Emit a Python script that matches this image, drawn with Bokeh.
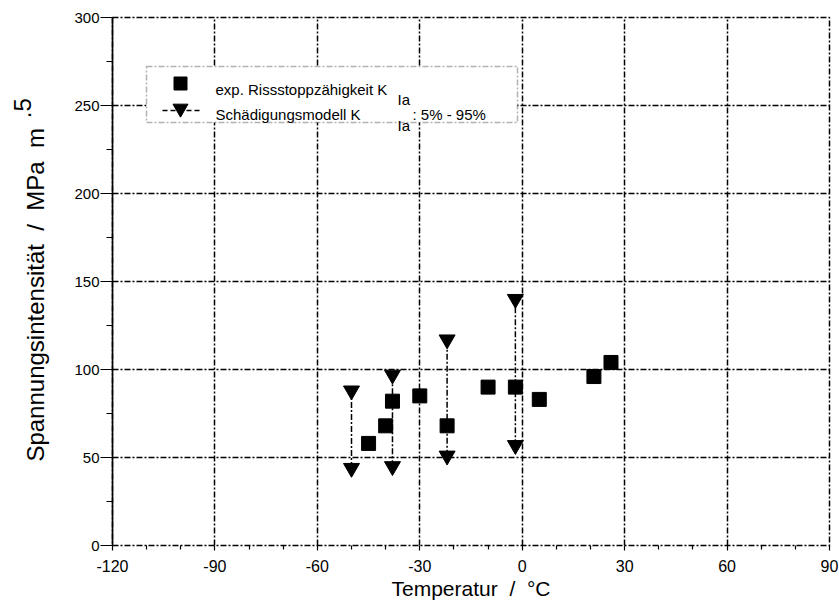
from bokeh.plotting import figure
from bokeh.models import FixedTicker, Label, BoxAnnotation, Range1d, LinearAxis
from bokeh.embed import file_html
from bokeh.resources import INLINE

# ---------------- data ----------------
temp_exp = [-45, -40, -38, -30, -22, -10, -2, 5, 21, 26]
kia_exp = [58, 68, 82, 85, 68, 90, 90, 83, 96, 104]

temp_model = [-50, -38, -22, -2]
kia_model_5 = [44, 45, 51, 57]
kia_model_95 = [88, 97, 117, 140]

x_ticks = [-120, -90, -60, -30, 0, 30, 60, 90]
x_tick_labels = ["-120", "-90", "-60", "-30", "0", "30", "60", "90"]
x_minor = [-110, -100, -80, -70, -50, -40, -20, -10, 10, 20, 40, 50, 70, 80]
y_ticks = [0, 50, 100, 150, 200, 250, 300]
y_tick_labels = ["0", "50", "100", "150", "200", "250", "300"]
y_minor = [25, 75, 125, 175, 225, 275]

NB = "\u00a0"
x_title = "Temperatur" + NB * 2 + "/" + NB * 2 + "\u00b0C"
y_title = "Spannungsintensität" + NB * 2 + "/" + NB * 2 + "MPa" + NB * 2 + "m" + NB * 4
y_title_sup = NB * 52 + ".5"
legend_exp = "exp. Rissstoppzähigkeit K"
legend_model = "Schädigungsmodell K"
legend_sub = "Ia"
legend_suffix = ": 5% - 95%"

# ---------------- layout ----------------
W, H = 839, 608
FL, FR, FT, FB = 112, 829, 17, 545
XMIN, XMAX = x_ticks[0], x_ticks[-1]
YMIN, YMAX = y_ticks[0], y_ticks[-1]


def dx(px):
    return XMIN + (px - FL) * (XMAX - XMIN) / (FR - FL)


def dy(py):
    return YMIN + (FB - py) * (YMAX - YMIN) / (FB - FT)


DASHDOT = "6 2 2 2"
LW = 1.5
FONT = "Liberation Sans"

p = figure(width=W, height=H, x_range=Range1d(XMIN, XMAX), y_range=Range1d(YMIN, YMAX),
           output_backend="svg", toolbar_location=None,
           min_border_left=FL, min_border_right=W - FR,
           min_border_top=FT, min_border_bottom=H - FB)
p.background_fill_color = "white"
p.border_fill_color = "white"
p.outline_line_color = "black"
p.outline_line_dash = DASHDOT
p.outline_line_width = LW

# grids
p.xgrid.ticker = FixedTicker(ticks=x_ticks[1:-1])
p.ygrid.ticker = FixedTicker(ticks=y_ticks[1:-1])
for g in (p.xgrid, p.ygrid):
    g.grid_line_color = "black"
    g.grid_line_dash = DASHDOT
    g.grid_line_width = LW

# y axis
ya = p.yaxis[0]
ya.ticker = FixedTicker(ticks=y_ticks, minor_ticks=y_minor)
ya.major_label_overrides = dict(zip(y_ticks, y_tick_labels))
ya.axis_line_color = "black"
ya.axis_line_width = 1.6
ya.major_tick_in = 0
ya.major_tick_out = 12
ya.major_tick_line_width = 1.2
ya.minor_tick_in = 0
ya.minor_tick_out = 6
ya.minor_tick_line_width = 1.2
ya.major_label_standoff = 1
ya.major_label_text_font = FONT
ya.major_label_text_font_size = "15px"
ya.major_label_text_color = "black"
ya.axis_label = y_title
ya.axis_label_text_font = FONT
ya.axis_label_text_font_size = "24px"
ya.axis_label_text_font_style = "normal"
ya.axis_label_text_color = "black"
ya.axis_label_standoff = 22

# extra (outer) left axis that only carries the exponent of the unit
sup_axis = LinearAxis(ticker=FixedTicker(ticks=[]), axis_line_color=None,
                      major_tick_line_color=None, minor_tick_line_color=None,
                      major_label_text_font_size="0px",
                      axis_label=y_title_sup, axis_label_text_font=FONT,
                      axis_label_text_font_size="24px", axis_label_text_font_style="normal",
                      axis_label_text_color="black", axis_label_standoff=-16)
p.add_layout(sup_axis, "left")

# x axis
xa = p.xaxis[0]
xa.ticker = FixedTicker(ticks=x_ticks, minor_ticks=x_minor)
xa.major_label_overrides = dict(zip(x_ticks, x_tick_labels))
xa.axis_line_color = None
xa.major_tick_in = 0
xa.major_tick_out = 5
xa.major_tick_line_width = 1.2
xa.minor_tick_in = 0
xa.minor_tick_out = 4
xa.minor_tick_line_width = 1.2
xa.major_label_standoff = 9
xa.major_label_text_font = FONT
xa.major_label_text_font_size = "16px"
xa.major_label_text_color = "black"
xa.axis_label = x_title
xa.axis_label_text_font = FONT
xa.axis_label_text_font_size = "21px"
xa.axis_label_text_font_style = "normal"
xa.axis_label_text_color = "black"
xa.axis_label_standoff = 2

# data glyphs
p.segment(x0=temp_model, y0=kia_model_5, x1=temp_model, y1=kia_model_95,
          line_color="black", line_dash=DASHDOT, line_width=LW)
p.scatter(temp_model, kia_model_95, marker="inverted_triangle", size=16, color="black")
p.scatter(temp_model, kia_model_5, marker="inverted_triangle", size=16, color="black")
p.scatter(temp_exp, kia_exp, marker="square", size=14, color="black")

# legend (drawn by hand to mimic the sub-/superscript placement)
box = BoxAnnotation(left=dx(146), right=dx(517), top=dy(66), bottom=dy(122),
                    fill_color="white", fill_alpha=1.0, line_color="black",
                    line_dash=DASHDOT, line_width=LW)
p.add_layout(box)
r1 = p.scatter([dx(180)], [dy(83)], marker="square", size=13, color="black")
r2 = p.segment(x0=[dx(162)], y0=[dy(110)], x1=[dx(200)], y1=[dy(110)],
               line_color="black", line_dash="5 3", line_width=LW)
r3 = p.scatter([dx(180)], [dy(108)], marker="inverted_triangle", size=15, color="black")
for r in (r1, r2, r3):
    r.level = "overlay"


def lab(px, py, text, size):
    p.add_layout(Label(x=dx(px), y=dy(py), text=text, text_font=FONT,
                       text_font_size=size, text_color="black", text_align="left",
                       text_baseline="alphabetic"))


lab(215, 88.5, legend_exp, "15px")
lab(215, 113.5, legend_model, "15px")
lab(397, 98.5, legend_sub, "15px")
lab(397, 125, legend_sub, "15px")
lab(412, 114, legend_suffix, "15px")

open("out.html", "w").write(file_html(p, INLINE))
